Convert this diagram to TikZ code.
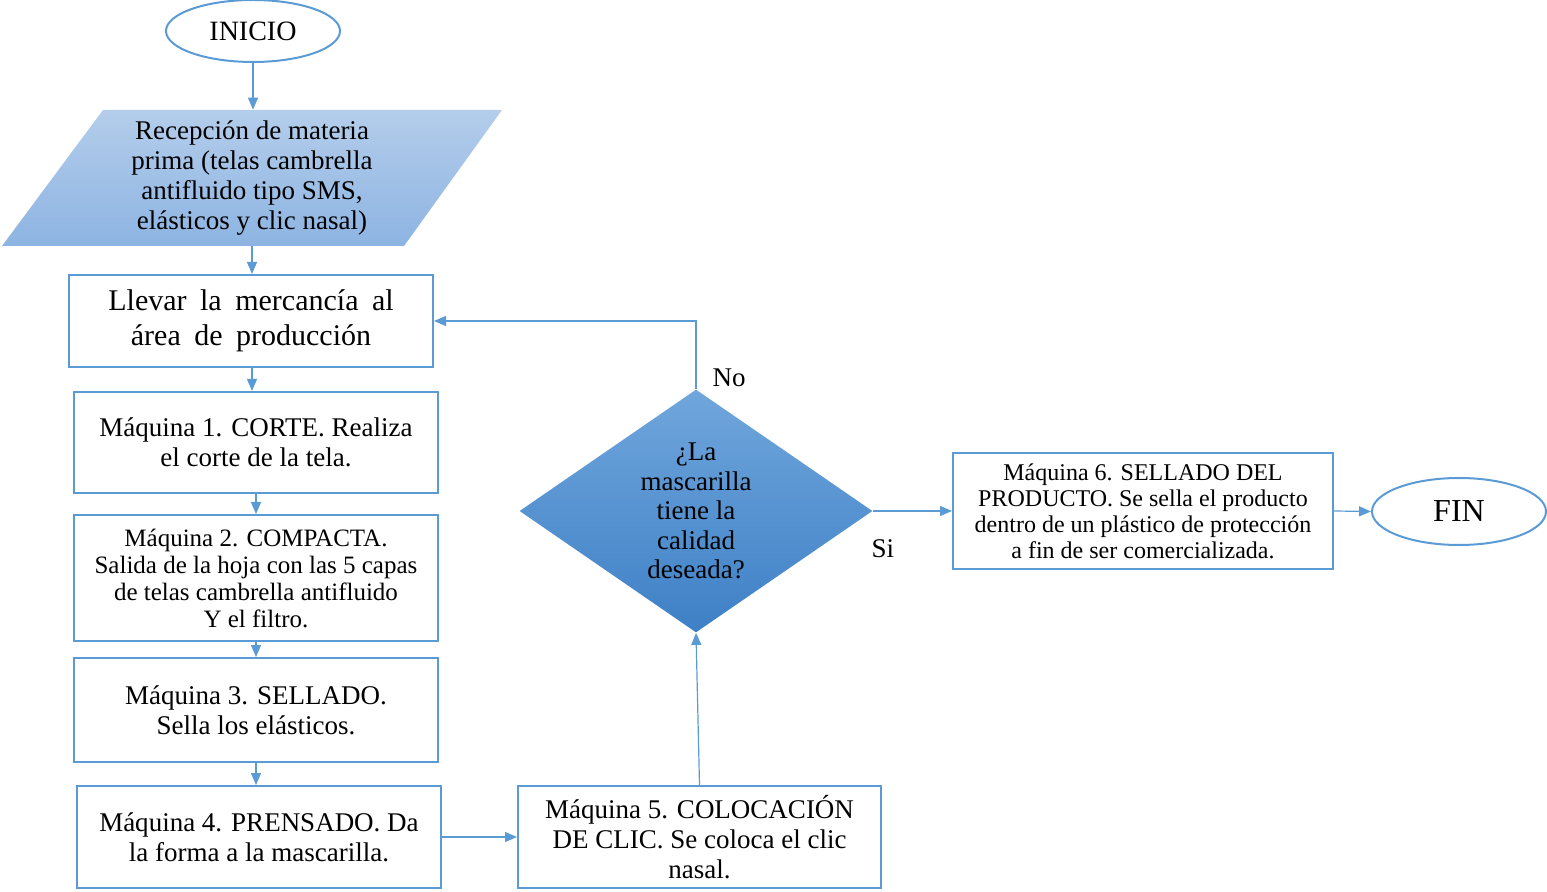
\documentclass[tikz,border=0pt]{standalone}
\usepackage{fontspec}
\setmainfont{Liberation Serif}
\newfontfamily\widefont[WordSpace=1.8]{Liberation Serif}
\usepackage{tikz}
\usetikzlibrary{shapes.geometric, arrows.meta}
\definecolor{azul}{HTML}{5B9BD5}
\definecolor{azulclaro}{HTML}{B4CDEB}
\definecolor{azulmedio}{HTML}{8DB4E2}
\definecolor{rombosup}{HTML}{70A6DC}
\definecolor{romboinf}{HTML}{3E80C6}

\begin{document}
\begin{tikzpicture}[x=0.5pt, y=-0.5pt,
  paso/.style={draw=azul, line width=1pt, rectangle, minimum width=182pt, align=center, inner sep=0pt, font=\fontsize{13.5}{15}\selectfont},
  term/.style={draw=azul, line width=1pt, ellipse, minimum width=87pt, inner sep=0pt},
  flecha/.style={-{Triangle[length=6pt, width=5pt]}, draw=azul, line width=0.6pt},
  etiq/.style={inner sep=0pt, font=\fontsize{13.5}{15}\selectfont}]
  \useasboundingbox (0,0) rectangle (1547,892);
  % nodes
  \node[term, minimum height=31pt, font=\fontsize{14}{16}\selectfont] (inicio) at (253,31) {INICIO};
  \shade[top color=azulclaro, bottom color=azulmedio] (103,110) -- (502,110) -- (404,246) -- (2,246) -- cycle;
  \node[align=center, inner sep=0pt, minimum height=68pt, font=\fontsize{13.5}{15}\selectfont] (recep) at (252,178)
    {Recepción de materia\\prima (telas cambrella\\antifluido tipo SMS,\\elásticos y clic nasal)};
  \node[paso, minimum height=46pt, font=\widefont\fontsize{15}{17.5}\selectfont] (llevar) at (251,321)
    {Llevar la mercancía al\\área de producción};
  \node[paso, minimum height=50.5pt] (m1) at (256,442.5) {Máquina 1. CORTE. Realiza\\el corte de la tela.};
  \node[paso, minimum height=63pt, font=\fontsize{12.5}{13.5}\selectfont] (m2) at (256,578)
    {Máquina 2. COMPACTA.\\Salida de la hoja con las 5 capas\\de telas cambrella antifluido\\Y el filtro.};
  \node[paso, minimum height=52pt] (m3) at (256,710) {Máquina 3. SELLADO.\\Sella los elásticos.};
  \node[paso, minimum height=51pt] (m4) at (259,837) {Máquina 4. PRENSADO. Da\\la forma a la mascarilla.};
  \node[paso, minimum height=51pt, minimum width=181.5pt] (m5) at (699.5,837)
    {Máquina 5. COLOCACIÓN\\DE CLIC. Se coloca el clic\\nasal.};
  \node[diamond, aspect=1.45, inner sep=0pt, minimum width=176.5pt, minimum height=121.5pt,
    top color=rombosup, bottom color=romboinf, align=center,
    font=\fontsize{13.5}{14.75}\selectfont] (calidad) at (696,511)
    {¿La\\mascarilla\\tiene la\\calidad\\deseada?};
  \node[paso, minimum width=190pt, minimum height=58pt, font=\fontsize{12}{13}\selectfont] (m6) at (1143,511)
    {Máquina 6. SELLADO DEL\\PRODUCTO. Se sella el producto\\dentro de un plástico de protección\\a fin de ser comercializada.};
  \node[term, minimum height=33.5pt, font=\fontsize{16}{18}\selectfont] (fin) at (1459,511.5) {FIN};
  % edges
  \draw[flecha] (inicio.south) -- (inicio.south |- recep.north);
  \draw[flecha] (recep.south) -- (recep.south |- llevar.north);
  \draw[flecha] (recep.south |- llevar.south) -- (recep.south |- m1.north);
  \draw[flecha] (m1.south) -- (m2.north);
  \draw[flecha] (m2.south) -- (m3.north);
  \draw[flecha] (m3.south) -- (m3.south |- m4.north);
  \draw[flecha] (m4.east) -- (m5.west);
  \draw[flecha] (m5.north) -- (calidad.south);
  \draw[flecha] (calidad.north) node[etiq, anchor=south west, xshift=8pt, yshift=1pt] {No} |- (llevar.east);
  \draw[flecha] (calidad.east) node[etiq, anchor=north west, xshift=-1pt, yshift=-14pt] {Si} -- (m6.west);
  \draw[flecha] (m6.east) -- (fin.west);
\end{tikzpicture}
\end{document}
